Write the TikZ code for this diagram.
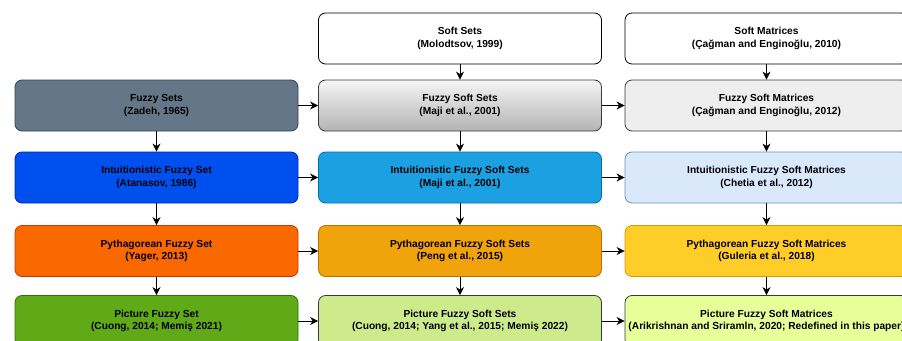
\documentclass[tikz,border=0pt]{standalone}
\usepackage{fontspec}
\setmainfont{Liberation Sans}
\usetikzlibrary{arrows.meta}
\definecolor{fsFill}{HTML}{647687}\definecolor{fsDraw}{HTML}{314354}
\definecolor{ifsFill}{HTML}{0050EF}\definecolor{ifsDraw}{HTML}{001DBC}
\definecolor{pyFill}{HTML}{FA6800}\definecolor{pyDraw}{HTML}{C73500}
\definecolor{picFill}{HTML}{60A917}\definecolor{picDraw}{HTML}{2D7600}
\definecolor{gTop}{HTML}{F5F5F5}\definecolor{gBot}{HTML}{B3B3B3}
\definecolor{ifssFill}{HTML}{1BA1E2}\definecolor{ifssDraw}{HTML}{006EAF}
\definecolor{pyssFill}{HTML}{F0A30A}\definecolor{pyssDraw}{HTML}{BD7000}
\definecolor{picssFill}{HTML}{CDEB8B}\definecolor{darkDraw}{HTML}{36393D}
\definecolor{fsmFill}{HTML}{EEEEEE}
\definecolor{ifsmFill}{HTML}{DAE8FC}\definecolor{ifsmDraw}{HTML}{6C8EBF}
\definecolor{pysmFill}{HTML}{FFCD28}\definecolor{pysmDraw}{HTML}{D79B00}
\definecolor{picsmFill}{HTML}{E6FF99}
\tikzset{
  box/.style={rectangle, rounded corners=7pt, minimum width=283pt, minimum height=51pt,
    inner sep=0pt, align=center, draw, line width=0.8pt,
    font=\bfseries\fontsize{10.2}{12.5}\selectfont},
  conn/.style={-{Stealth[length=8pt,width=8pt,inset=2.5pt]}, line width=0.9pt, black},
}
\begin{document}
\begin{tikzpicture}[x=1pt,y=-1pt]
\clip (0,0) rectangle (902,340);
\useasboundingbox (0,0) rectangle (902,340);
\fill[white] (0,0) rectangle (902,340);
% column 1
\node[box, fill=fsFill, draw=fsDraw] (fs) at (156.5,105.5) {Fuzzy Sets\\(Zadeh, 1965)};
\node[box, fill=ifsFill, draw=ifsDraw] (ifs) at (156.5,177.5) {Intuitionistic Fuzzy Set\\(Atanasov, 1986)};
\node[box, fill=pyFill, draw=pyDraw] (pfs) at (156.5,251) {Pythagorean Fuzzy Set\\(Yager, 2013)};
\node[box, fill=picFill, draw=picDraw] (picfs) at (156.5,321) {Picture Fuzzy Set\\(Cuong, 2014; Memiş 2021)};
% column 2
\node[box, fill=white, draw=black] (ss) at (460,38.5) {Soft Sets\\(Molodtsov, 1999)};
\node[box, top color=gTop, bottom color=gBot, draw=darkDraw] (fss) at (460,105.5) {Fuzzy Soft Sets\\(Maji et al., 2001)};
\node[box, fill=ifssFill, draw=ifssDraw] (ifss) at (460,177.5) {Intuitionistic Fuzzy Soft Sets\\(Maji et al., 2001)};
\node[box, fill=pyssFill, draw=pyssDraw] (pfss) at (460,251) {Pythagorean Fuzzy Soft Sets\\(Peng et al., 2015)};
\node[box, fill=picssFill, draw=darkDraw] (picfss) at (460,321) {Picture Fuzzy Soft Sets\\(Cuong, 2014; Yang et al., 2015; Memiş 2022)};
% column 3
\node[box, fill=white, draw=black] (sm) at (766.5,38.5) {Soft Matrices\\(Çağman and Enginoğlu, 2010)};
\node[box, fill=fsmFill, draw=darkDraw] (fsm) at (766.5,105.5) {Fuzzy Soft Matrices\\(Çağman and Enginoğlu, 2012)};
\node[box, fill=ifsmFill, draw=ifsmDraw] (ifsm) at (766.5,177.5) {Intuitionistic Fuzzy Soft Matrices\\(Chetia et al., 2012)};
\node[box, fill=pysmFill, draw=pysmDraw] (pfsm) at (766.5,251) {Pythagorean Fuzzy Soft Matrices\\(Guleria et al., 2018)};
\node[box, fill=picsmFill, draw=darkDraw] (picfsm) at (766.5,321) {Picture Fuzzy Soft Matrices\\(Arikrishnan and Sriramln, 2020; Redefined in this paper)};
% vertical connectors
\draw[conn] (fs) -- (ifs);
\draw[conn] (ifs) -- (pfs);
\draw[conn] (pfs) -- (picfs);
\draw[conn] (ss) -- (fss);
\draw[conn] (fss) -- (ifss);
\draw[conn] (ifss) -- (pfss);
\draw[conn] (pfss) -- (picfss);
\draw[conn] (sm) -- (fsm);
\draw[conn] (fsm) -- (ifsm);
\draw[conn] (ifsm) -- (pfsm);
\draw[conn] (pfsm) -- (picfsm);
% horizontal connectors
\draw[conn] (fs) -- (fss);
\draw[conn] (ifs) -- (ifss);
\draw[conn] (pfs) -- (pfss);
\draw[conn] (picfs) -- (picfss);
\draw[conn] (fss) -- (fsm);
\draw[conn] (ifss) -- (ifsm);
\draw[conn] (pfss) -- (pfsm);
\draw[conn] (picfss) -- (picfsm);
\end{tikzpicture}
\end{document}
